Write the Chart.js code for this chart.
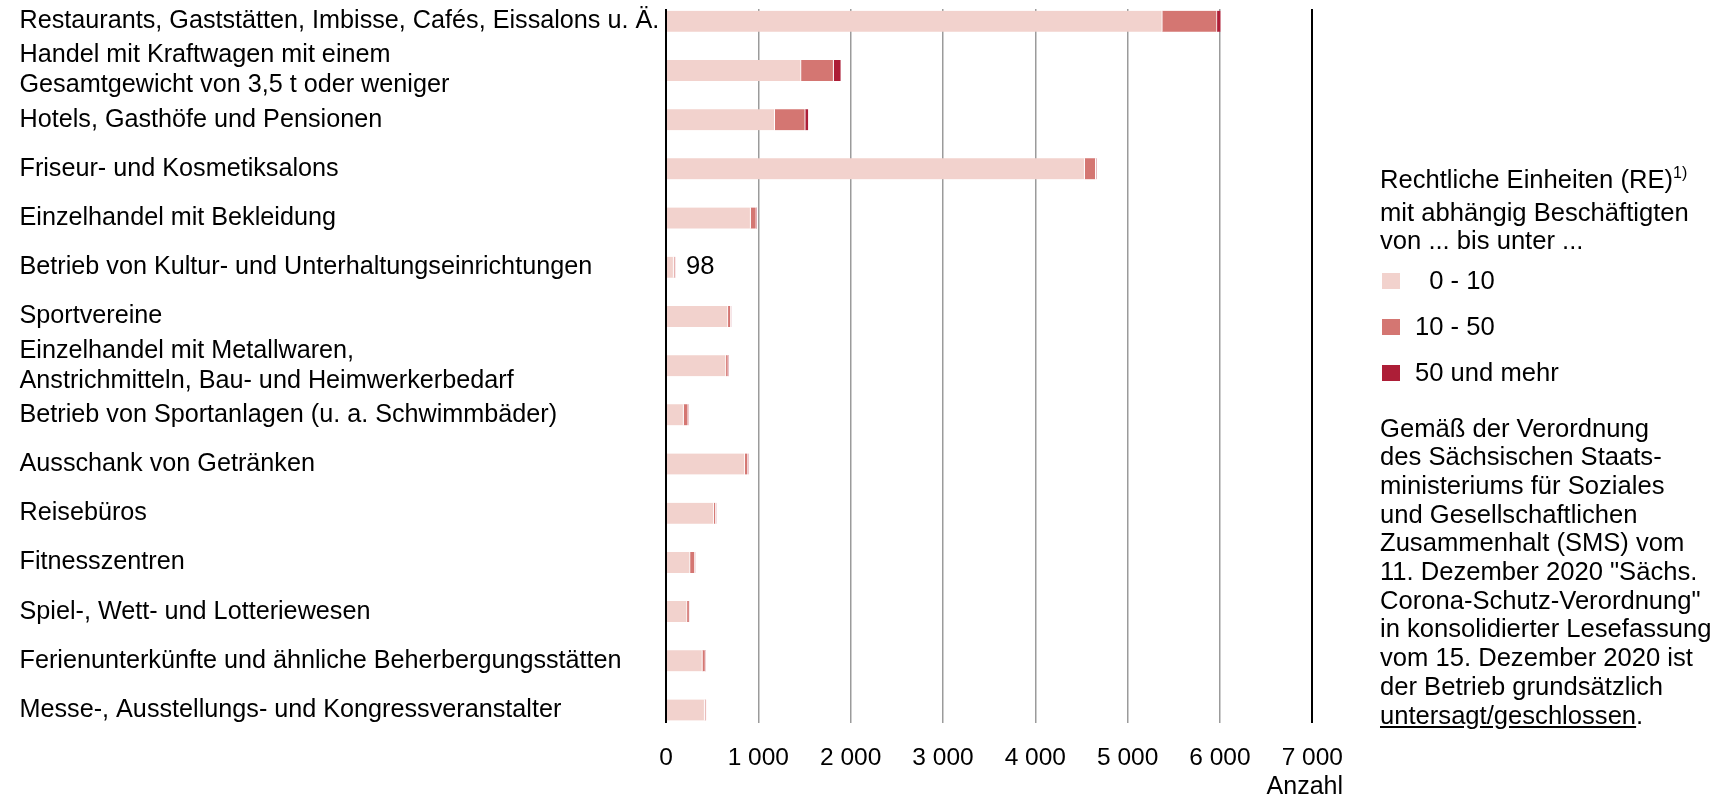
<!DOCTYPE html>
<html lang="de">
<head>
<meta charset="utf-8">
<title>Rechtliche Einheiten in geschlossenen Wirtschaftszweigen</title>
<script src="https://cdn.jsdelivr.net/npm/chart.js@4.4.1/dist/chart.umd.min.js"></script>
<style>
  html, body { margin: 0; padding: 0; background: #fff; }
  body {
    width: 1720px; height: 795px; position: relative; overflow: hidden;
    font-family: "Liberation Sans", Arial, sans-serif; color: #000;
  }
  /* Canvas etwas nach oben versetzt, damit die Zeichenflaeche oben bei ~9 px beginnt */
  #chart { position: absolute; left: 0; top: -6px; }
  .side { position: absolute; left: 1380px; font-size: 25.6px; white-space: nowrap; }
  #legendTitle { top: 165px; line-height: 28.7px; }
  #legendTitle sup { font-size: 16px; vertical-align: 0; position: relative; top: -10px; }
  .item { position: absolute; left: 0; height: 30px; line-height: 30px; }
  .item .box { position: absolute; left: 2px; top: 8px; width: 18px; height: 16px; }
  .item .txt { position: absolute; left: 35px; top: 0; }
  #note { top: 413.5px; line-height: 28.7px; }
  #axisTitle { position: absolute; right: 377px; top: 770px; font-size: 25px; line-height: 30px; }
</style>
</head>
<body>
<canvas id="chart" width="1720" height="801"></canvas>
<div id="legendTitle" class="side">Rechtliche Einheiten (RE)<sup>1)</sup><br>mit abhängig Beschäftigten<br>von ... bis unter ...</div>
<div id="legendItems" class="side" style="top:265px"></div>
<div id="note" class="side">Gemäß der Verordnung<br>des Sächsischen Staats-<br>ministeriums für Soziales<br>und Gesellschaftlichen<br>Zusammenhalt (SMS) vom<br>11. Dezember 2020 "Sächs.<br>Corona-Schutz-Verordnung"<br>in konsolidierter Lesefassung<br>vom 15. Dezember 2020 ist<br>der Betrieb grundsätzlich<br><u>untersagt/geschlossen</u>.</div>
<div id="axisTitle">Anzahl</div>
<script>
const categories = [
  'Restaurants, Gaststätten, Imbisse, Cafés, Eissalons u. Ä.',
  ['Handel mit Kraftwagen mit einem', 'Gesamtgewicht von 3,5 t oder weniger'],
  'Hotels, Gasthöfe und Pensionen',
  'Friseur- und Kosmetiksalons',
  'Einzelhandel mit Bekleidung',
  'Betrieb von Kultur- und Unterhaltungseinrichtungen',
  'Sportvereine',
  ['Einzelhandel mit Metallwaren,', 'Anstrichmitteln, Bau- und Heimwerkerbedarf'],
  'Betrieb von Sportanlagen (u. a. Schwimmbäder)',
  'Ausschank von Getränken',
  'Reisebüros',
  'Fitnesszentren',
  'Spiel-, Wett- und Lotteriewesen',
  'Ferienunterkünfte und ähnliche Beherbergungsstätten',
  'Messe-, Ausstellungs- und Kongressveranstalter'
];

const seriesLabels = ['\u20070 - 10', '10 - 50', '50 und mehr'];
const seriesColors = ['#f2d2cd', '#d47672', '#ad1e37'];

// RE nach Beschaeftigtengroessenklassen
const re0to10  = [5375, 1463, 1177, 4534, 916, 82, 671, 650, 190, 854, 518, 261, 228, 394, 418];
const re10to50 = [593, 352, 331, 120, 62, 14, 31, 25, 50, 34, 22, 52, 27, 33, 12];
const re50plus = [45, 83, 38, 8, 5, 2, 3, 3, 2, 3, 3, 2, 2, 3, 2];

const xTickValues = [0, 1000, 2000, 3000, 4000, 5000, 6000, 7000];
const labeledIndex = 5; // Kultur- und Unterhaltungseinrichtungen: Summe am Balken

const allSeries = [re0to10, re10to50, re50plus];

const fontFamily = '"Liberation Sans", Arial, sans-serif';
Chart.defaults.font.family = fontFamily;
Chart.defaults.color = '#000';

const formatThousands = v => String(v).replace(/\B(?=(\d{3})+(?!\d))/g, ' ');

const totalLabel = {
  id: 'totalLabel',
  afterDatasetsDraw(chart) {
    const meta = chart.getDatasetMeta(chart.data.datasets.length - 1);
    const bar = meta.data[labeledIndex];
    const total = allSeries.reduce((s, arr) => s + arr[labeledIndex], 0);
    const ctx = chart.ctx;
    ctx.save();
    ctx.font = '25.6px ' + fontFamily;
    ctx.fillStyle = '#000';
    ctx.textBaseline = 'middle';
    ctx.textAlign = 'left';
    ctx.fillText(String(total), bar.x + 11, bar.y);
    ctx.restore();
  }
};

const ctx = document.getElementById('chart').getContext('2d');
const chart = new Chart(ctx, {
  type: 'bar',
  data: {
    datasets: allSeries.map((arr, k) => ({
      label: seriesLabels[k],
      data: arr.map((v, i) => ({ x: v, y: i })),
      backgroundColor: seriesColors[k],
      borderColor: '#ffffff',
      borderWidth: { right: 1 },
      borderSkipped: 'start',
      stack: 're',
      barThickness: 21
    }))
  },
  options: {
    indexAxis: 'y',
    responsive: false,
    animation: false,
    layout: { padding: { left: 19.5, right: 407.7, top: 9, bottom: 22.2 } },
    plugins: {
      legend: { display: false },
      tooltip: { enabled: true }
    },
    scales: {
      x: {
        type: 'linear',
        stacked: true,
        min: 0,
        max: 7000,
        afterBuildTicks: s => { s.ticks = xTickValues.map(v => ({ value: v })); },
        afterFit: s => { s.height = 50; },
        border: { display: false },
        grid: {
          drawTicks: false,
          color: c => (c.tick && (c.tick.value === 0 || c.tick.value === 7000)) ? '#000' : '#9b9b9b',
          lineWidth: c => (c.tick && (c.tick.value === 0 || c.tick.value === 7000)) ? 2 : 1.5
        },
        ticks: {
          padding: 21,
          font: { size: 24.5 },
          color: '#000',
          callback: v => formatThousands(v)
        }
      },
      y: {
        type: 'linear',
        offset: false,
        reverse: true,
        min: -0.25,
        max: categories.length - 1 + 0.26,
        afterBuildTicks: s => {
          s.ticks = [{ value: s.min }]
            .concat(categories.map((c, i) => ({ value: i })))
            .concat([{ value: s.max }]);
        },
        afterFit: s => { s.width = 646.5; },
        border: { display: false },
        grid: { display: false, drawTicks: false, offset: false },
        ticks: {
          autoSkip: false,
          crossAlign: 'far',
          padding: 0,
          font: { size: 25.2, lineHeight: 1.19 },
          color: '#000',
          callback: v => Number.isInteger(v) ? categories[v] : null
        }
      }
    }
  },
  plugins: [totalLabel]
});

// Legende aus den Datensaetzen
const legendBox = document.getElementById('legendItems');
chart.data.datasets.forEach((ds, k) => {
  const item = document.createElement('div');
  item.className = 'item';
  item.style.top = (k * 46) + 'px';
  const box = document.createElement('span');
  box.className = 'box';
  box.style.background = ds.backgroundColor;
  const txt = document.createElement('span');
  txt.className = 'txt';
  txt.textContent = ds.label;
  item.appendChild(box);
  item.appendChild(txt);
  legendBox.appendChild(item);
});
</script>
</body>
</html>
